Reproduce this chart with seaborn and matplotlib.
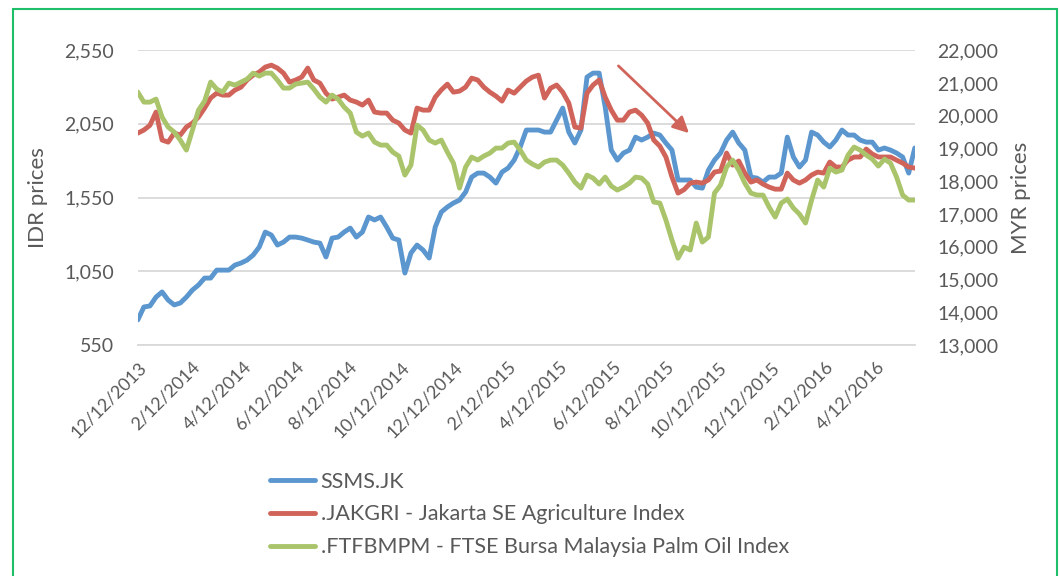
import pandas as pd
import matplotlib
matplotlib.use('Agg')
import matplotlib.pyplot as plt
from matplotlib.patches import Rectangle
import seaborn as sns

# weekly readings from 12/12/2013
dates = pd.date_range('2013-12-12', periods=129, freq='7D')

ssms = [720, 808, 815, 875, 910, 855, 822, 835,
        875, 923, 957, 1004, 1004, 1058, 1058, 1058,
        1092, 1106, 1126, 1160, 1214, 1316, 1296, 1228,
        1248, 1282, 1282, 1275, 1262, 1248, 1241, 1147,
        1275, 1282, 1316, 1343, 1282, 1316, 1418, 1398,
        1418, 1350, 1275, 1262, 1038, 1174, 1228, 1194,
        1140, 1350, 1452, 1486, 1513, 1533, 1587, 1689,
        1716, 1716, 1689, 1648, 1723, 1750, 1804, 1893,
        2008, 2008, 2008, 1994, 1994, 2075, 2157, 1994,
        1920, 2008, 2367, 2394, 2394, 2164, 1872, 1804,
        1852, 1872, 1960, 1940, 1960, 1987, 1974, 1920,
        1872, 1669, 1669, 1669, 1621, 1614, 1736, 1804,
        1852, 1940, 1994, 1920, 1872, 1689, 1682, 1655,
        1689, 1689, 1716, 1960, 1825, 1757, 1804, 1994,
        1974, 1926, 1893, 1940, 2008, 1974, 1974, 1940,
        1926, 1926, 1872, 1886, 1872, 1852, 1825, 1716,
        1886]

jakgri = [1987, 2008, 2040, 2130, 1940, 1926, 1987, 1974,
          2028, 2055, 2096, 2157, 2225, 2258, 2245, 2245,
          2279, 2299, 2347, 2380, 2401, 2435, 2448, 2428,
          2394, 2333, 2347, 2367, 2428, 2347, 2326, 2258,
          2218, 2231, 2245, 2211, 2198, 2177, 2211, 2130,
          2123, 2123, 2075, 2055, 2008, 1987, 2157, 2143,
          2143, 2231, 2280, 2319, 2265, 2272, 2299, 2360,
          2347, 2299, 2265, 2238, 2204, 2279, 2258, 2299,
          2340, 2367, 2380, 2225, 2292, 2313, 2265, 2191,
          2028, 2021, 2258, 2313, 2347, 2231, 2143, 2075,
          2075, 2130, 2143, 2109, 2055, 1940, 1899, 1825,
          1689, 1580, 1604, 1648, 1655, 1648, 1669, 1723,
          1730, 1852, 1770, 1798, 1716, 1655, 1669, 1641,
          1621, 1607, 1607, 1716, 1669, 1648, 1669, 1703,
          1723, 1716, 1791, 1757, 1757, 1804, 1825, 1825,
          1879, 1845, 1825, 1825, 1825, 1804, 1784, 1757,
          1750]

ftfbmpm = [20719, 20413, 20413, 20505, 19956, 19651, 19498, 19254,
           18949, 19559, 20169, 20444, 21024, 20810, 20719, 20993,
           20932, 21024, 21115, 21298, 21207, 21298, 21298, 21085,
           20841, 20841, 20963, 20993, 21024, 20810, 20566, 20413,
           20627, 20505, 20261, 20078, 19498, 19376, 19468, 19193,
           19102, 19102, 18888, 18766, 18186, 18491, 19712, 19559,
           19254, 19163, 19254, 18888, 18552, 17790, 18430, 18735,
           18644, 18766, 18857, 19010, 19010, 19163, 19193, 18949,
           18644, 18522, 18430, 18583, 18644, 18644, 18491, 18247,
           17973, 17790, 18186, 18095, 17912, 18125, 17851, 17729,
           17820, 17942, 18125, 18095, 17912, 17363, 17332, 16813,
           16203, 15650, 15989, 15898, 16722, 16142, 16295, 17637,
           17881, 18430, 18644, 18339, 17942, 17637, 17576, 17576,
           17210, 16905, 17332, 17454, 17180, 16996, 16722, 17424,
           18034, 17820, 18400, 18278, 18339, 18796, 19041, 18949,
           18796, 18674, 18461, 18674, 18552, 18125, 17576, 17424,
           17424]

labels = ['SSMS.JK', '.JAKGRI - Jakarta SE Agriculture Index',
          '.FTFBMPM - FTSE Bursa Malaysia Palm Oil Index']

idr_ticks = [550, 1050, 1550, 2050, 2550]
myr_ticks = list(range(13000, 22001, 1000))
tick_dates = pd.date_range('2013-12-01', '2016-04-01', freq='2MS') + pd.Timedelta(days=11)

df = pd.DataFrame({'date': dates, 'ssms': ssms, 'jakgri': jakgri, 'ftfbmpm': ftfbmpm})

sns.set_style('white')
plt.rcParams['font.family'] = ['Lato', 'DejaVu Sans']

blue, red, green = '#5b96cf', '#d0645a', '#a9c46a'
grey = '#595959'

fig = plt.figure(figsize=(10.6, 5.76), dpi=100)
ax = fig.add_axes([0.130, 0.401, 0.733, 0.512])
ax2 = ax.twinx()

kw = dict(lw=3.5, legend=False, solid_joinstyle='round', solid_capstyle='round')
sns.lineplot(data=df, x='date', y='ssms', ax=ax, color=blue, label=labels[0], **kw)
sns.lineplot(data=df, x='date', y='jakgri', ax=ax, color=red, label=labels[1], **kw)
sns.lineplot(data=df, x='date', y='ftfbmpm', ax=ax2, color=green, label=labels[2], **kw)

ax.set_xlim(dates[0], dates[-1])
ax.set_ylim(550, 2550)
ax2.set_ylim(13000, 22000)
ax.set_yticks(idr_ticks)
ax.set_yticklabels([f'{v:,}' for v in idr_ticks])
ax2.set_yticks(myr_ticks)
ax2.set_yticklabels([f'{v:,}' for v in myr_ticks])
ax.set_xticks(tick_dates)
ax.set_xticklabels([f'{d.month}/{d.day}/{d.year}' for d in tick_dates],
                   rotation=45, ha='right', rotation_mode='anchor')

ax.yaxis.grid(True, color='#d9d9d9', lw=1.3)
ax.xaxis.grid(False)
ax2.grid(False)
for s in ['top', 'left', 'right']:
    ax.spines[s].set_visible(False)
for s in ax2.spines:
    ax2.spines[s].set_visible(False)
ax.spines['bottom'].set_color('#d9d9d9')
ax.spines['bottom'].set_linewidth(1.3)

ax.tick_params(axis='y', length=0, pad=17, labelsize=14, labelcolor=grey)
ax2.tick_params(axis='y', length=0, pad=16, labelsize=14, labelcolor=grey)
ax.tick_params(axis='x', length=5, width=1.3, color='#d9d9d9', labelsize=13,
               labelcolor=grey, pad=5)

ax.set_xlabel('')
ax.set_ylabel('IDR prices', fontsize=16, color=grey)
ax.yaxis.set_label_coords(-0.116, 0.5)
ax2.set_ylabel('MYR prices', fontsize=16, color=grey)
ax2.yaxis.set_label_coords(1.124, 0.5)

# trend arrow
ax.annotate('', xy=(0.712, 0.712), xytext=(0.616, 0.953), xycoords='axes fraction',
            arrowprops=dict(arrowstyle='-|>', color=red, lw=2, mutation_scale=24))

lines = ax.get_lines() + ax2.get_lines()
fig.legend(lines, labels, loc='upper left', bbox_to_anchor=(0.2365, 0.215), frameon=False,
           fontsize=15.5, handlelength=2.1, handletextpad=0.25, labelspacing=0.6,
           labelcolor=grey)

fig.patches.append(Rectangle((13 / 1060, -0.01), 1044 / 1060, 1 - 9 / 576 + 0.01,
                             transform=fig.transFigure, fill=False,
                             edgecolor='#1fbf6a', lw=1.5))

fig.savefig('out.png', dpi=100)
